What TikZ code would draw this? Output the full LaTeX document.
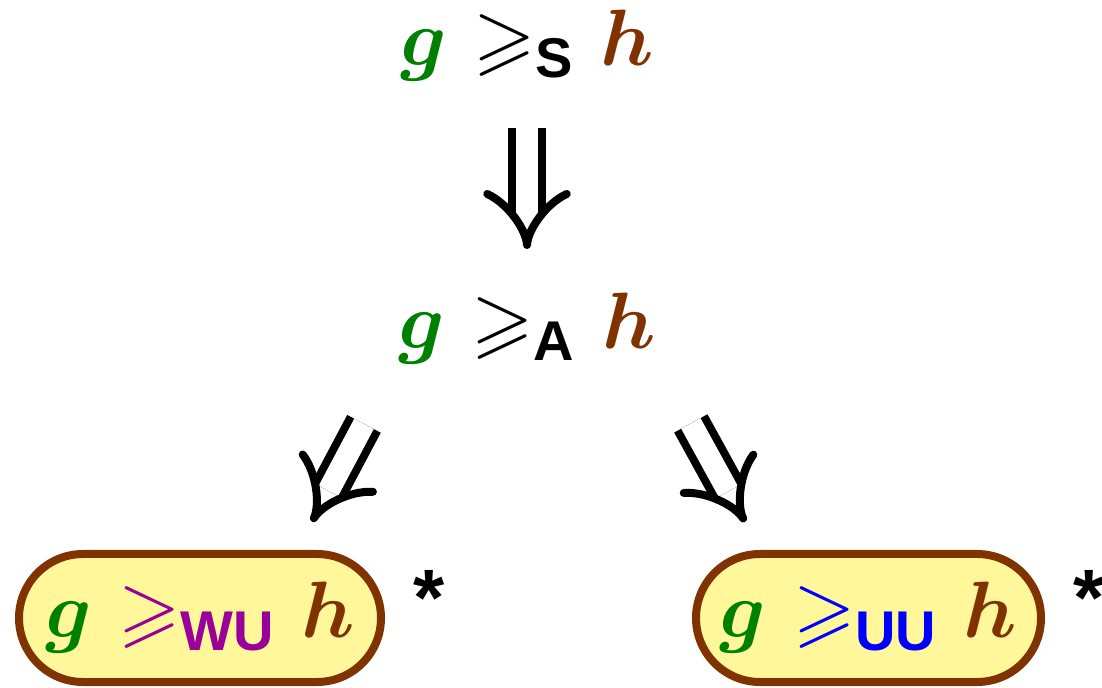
\RequirePackage{fix-cm}
\documentclass[tikz,border=0pt]{standalone}
\usepackage{amsmath,amssymb,bm}
\usepackage{fontspec}
\setsansfont{Liberation Sans}
\usetikzlibrary{arrows.meta,positioning}
\definecolor{gcol}{RGB}{0,128,0}
\definecolor{hcol}{RGB}{128,51,0}
\definecolor{wucol}{RGB}{153,0,153}
\definecolor{uucol}{RGB}{0,0,255}
\definecolor{pillfill}{RGB}{255,247,153}
\newcommand{\relgh}[2]{${\color{gcol}\bm{g}}\mskip6mu{\color{#1}\geqslant_{\hbox{\fontsize{28}{28}\selectfont\sffamily\bfseries #2}}}\mskip6mu{\color{hcol}\bm{h}}$}
\tikzset{
    rel/.style={inner sep=3pt, font=\fontsize{40}{44}\selectfont},
    pill/.style={rectangle, draw=hcol, line width=4pt, fill=pillfill, rounded corners=32pt, minimum height=64pt, inner sep=3pt, font=\fontsize{40}{44}\selectfont},
    astr/.style={inner sep=0pt, font=\fontsize{40}{40}\selectfont\sffamily\bfseries},
    impl/.style={double, line width=4pt, double distance=11pt, -{Implies}},
}

\begin{document}
\begin{tikzpicture}[x=0.5pt, y=-0.5pt]
    \useasboundingbox (0,0) rectangle (1102,688);
    \node[rel] (s) at (527,46) {\relgh{black}{S}};
    \node[rel, below=99.5pt of s] (a) {\relgh{black}{A}};
    \node[pill, minimum width=181pt] (wu) at (200,618) {\relgh{wucol}{WU}};
    \node[pill, minimum width=172.5pt] (uu) at (868.5,618) {\relgh{uucol}{UU}};
    \node[astr, right=14pt of wu.east, yshift=10pt] (swu) {*};
    \node[astr, right=14pt of uu.east, yshift=10pt] (suu) {*};

    \draw[impl, shorten <=20pt, shorten >=19pt] (s) -- (a);
    \draw[impl, shorten <=30pt, shorten >=16pt] (a.south west) -- ([xshift=48.5pt]wu.north);
    \draw[impl, shorten <=30pt, shorten >=16pt] (a.south east) -- ([xshift=-54pt]uu.north);
\end{tikzpicture}
\end{document}
